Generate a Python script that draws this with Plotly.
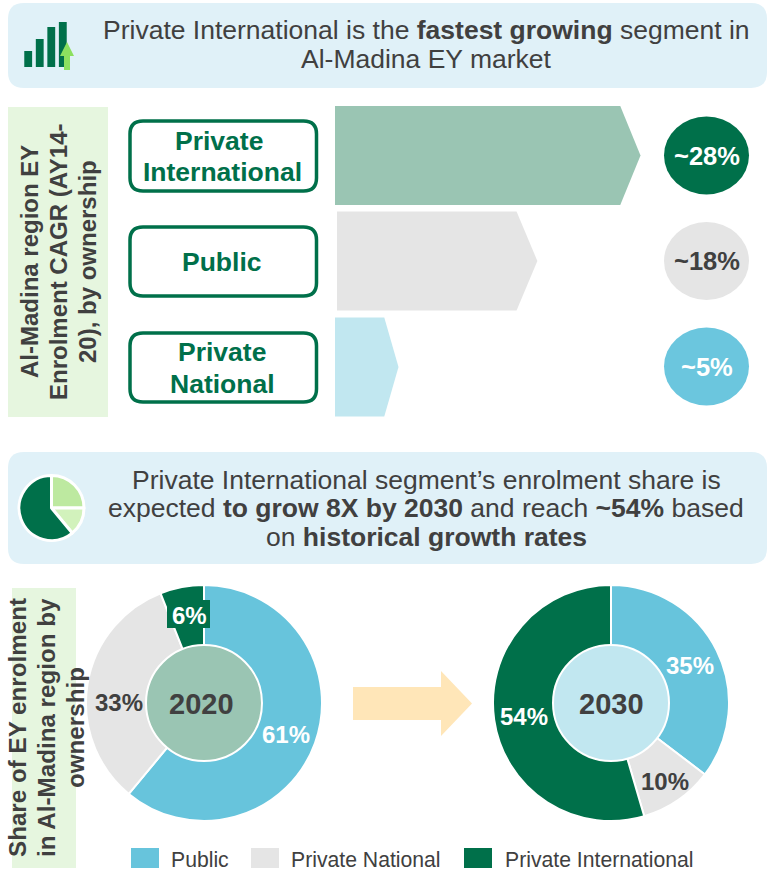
import plotly.graph_objects as go

W, H = 768, 891
FONT = "Liberation Sans"
DARK = "#404040"
GREEN = "#00704A"
BLUE = "#67C4DC"
GREY = "#E5E5E5"

# ---- data ----
segments = ["Private International", "Public", "Private National"]
cagr_labels = ["~28%", "~18%", "~5%"]
arrow_lengths = [27.9, 18.3, 5.8]
arrow_starts = [0.0, 0.18, 0.0]
owners = ["Public", "Private National", "Private International"]
share_2020 = [61, 33, 6]
share_2030 = [35, 10, 54]
icon_pie = [25, 14, 61]
icon_bars = [16, 28, 40, 45]


def px_dom(a, b, size):
    return [a / size, b / size]


def rrect(x0, y0, x1, y1, r):
    return (f"M{x0+r},{y0} L{x1-r},{y0} Q{x1},{y0} {x1},{y0+r} L{x1},{y1-r} Q{x1},{y1} {x1-r},{y1} "
            f"L{x0+r},{y1} Q{x0},{y1} {x0},{y1-r} L{x0},{y0+r} Q{x0},{y0} {x0+r},{y0} Z")


shapes, ann = [], []


def S(**k):
    k.setdefault("xref", "x")
    k.setdefault("yref", "y")
    k.setdefault("layer", "below")
    k.setdefault("line", dict(width=0))
    shapes.append(k)


def T(x, y, text, size, color=DARK, bold=False, angle=0):
    ann.append(dict(x=x, y=y, xref="x", yref="y", text=f"<b>{text}</b>" if bold else text,
                    showarrow=False, textangle=angle, xanchor="center", yanchor="middle",
                    font=dict(family=FONT, size=size, color=color), borderpad=0))


# header panels
S(type="path", path=rrect(8, 3, 767, 88, 16), fillcolor="#E0F1F8")
S(type="path", path=rrect(8, 452, 767, 564, 16), fillcolor="#E0F1F8")
T(426, 30, "Private International is the <b>fastest growing</b> segment in", 26.5)
T(426, 59, "Al-Madina EY market", 26.5)
T(426, 480, "Private International segment\u2019s enrolment share is", 26.5)
T(426, 508, "expected <b>to grow 8X by 2030</b> and reach <b>~54%</b> based", 26.5)
T(426, 537, "on <b>historical growth rates</b>", 26.5)

# light green side labels
S(type="rect", x0=8, y0=107, x1=108, y1=417, fillcolor="#E6F6DF")
S(type="rect", x0=12, y0=588, x1=76, y1=868, fillcolor="#E6F6DF")
T(29, 262, "Al-Madina region EY", 24, bold=True, angle=-90)
T(58, 262, "Enrolment CAGR (AY14-", 24, bold=True, angle=-90)
T(87, 262, "20), by ownership", 24, bold=True, angle=-90)
T(17, 728, "Share of EY enrolment", 24.2, bold=True, angle=-90)
T(46, 728, "in Al-Madina region by", 24.2, bold=True, angle=-90)
T(75, 728, "ownership", 24.2, bold=True, angle=-90)

# segment buttons
for y0, y1 in [(121, 191), (227, 296), (333, 402)]:
    S(type="path", path=rrect(130, y0, 316.5, y1, 13), fillcolor="white", line=dict(color=GREEN, width=3.5))
T(219, 141, "Private", 26.5, GREEN, True)
T(222, 172, "International", 26.5, GREEN, True)
T(222, 262, "Public", 26.5, GREEN, True)
T(222, 352, "Private", 26.5, GREEN, True)
T(222, 384, "National", 26.5, GREEN, True)

# CAGR circles
for yc, col, tc, lab in zip([155.5, 261, 366.5], [GREEN, GREY, "#6BC6DE"], ["white", DARK, "white"], cagr_labels):
    S(type="circle", x0=664, x1=749, y0=yc - 39, y1=yc + 39, fillcolor=col)
    T(707, yc, lab, 25.5, tc, True)

# big arrow
S(type="path", path="M353,687 L441,687 L441,671 L472,703.5 L441,736 L441,720 L353,720 Z", fillcolor="#FFE6B8")

# icons
S(type="path", path="M64,70 L64,56 L60,56 L67,42 L74,56 L70,56 L70,70 Z",
  fillcolor="#8CE05F", layer="above")

# legend
for x0, col, lab, tx in [(131, BLUE, owners[0], 200), (251, GREY, owners[1], 366), (464, GREEN, owners[2], 599)]:
    S(type="rect", x0=x0, x1=x0 + 28, y0=848, y1=868, fillcolor=col)
    T(tx, 859, lab, 21.2)

fig = go.Figure()

# chevron arrows on a value axis
px_per_unit = 10.95
fills = ["#9AC5B3", GREY, "#C1E7F0"]
for name, base, L, yc, f, tipw in zip(segments, arrow_starts, arrow_lengths, [155.5, 261, 367], fills,
                                      [1.85, 1.9, 1.3]):
    ym, yM = yc - 49.5, yc + 49.5
    fig.add_trace(go.Scatter(
        x=[base, base + L - tipw, base + L, base + L - tipw, base, base],
        y=[ym, ym, yc, yM, yM, ym], mode="lines", fill="toself", fillcolor=f,
        line=dict(width=0), name=name, xaxis="x2", yaxis="y", hoverinfo="skip", showlegend=False))

# icon bars
fig.add_trace(go.Bar(x=[0, 1, 2, 3], y=icon_bars, marker=dict(color=GREEN, line=dict(width=0)),
                     width=0.68, xaxis="x3", yaxis="y3", hoverinfo="skip", showlegend=False))


def pie(vals, xd, yd, hole, cols, sort=False, line=2):
    fig.add_trace(go.Pie(values=vals, labels=owners, domain=dict(x=xd, y=yd), hole=hole,
                         direction="clockwise", sort=sort, rotation=0, textinfo="none",
                         marker=dict(colors=cols, line=dict(color="white", width=line)),
                         hoverinfo="skip", showlegend=False))


cols = [BLUE, GREY, GREEN]
pie(share_2020, px_dom(86, 322, W), [1 - 821 / H, 1 - 585 / H], 0.0, cols)
pie(share_2030, px_dom(493, 729, W), [1 - 821 / H, 1 - 585 / H], 0.0, cols)
pie(icon_pie, px_dom(19, 84, W), [1 - 540.5 / H, 1 - 475.5 / H], 0.0, ["#BDE9A0", "#D2F2BC", GREEN], line=3)

# pie centres drawn above pies
S(type="circle", x0=146, x1=262, y0=645, y1=761, fillcolor="#9AC5B3",
  line=dict(color="white", width=2), layer="above")
S(type="circle", x0=553, x1=669, y0=645, y1=761, fillcolor="#C1E7F0",
  line=dict(color="white", width=2), layer="above")
S(type="rect", x0=167, x1=210, y0=600, y1=628, fillcolor=GREEN, layer="above")
T(201, 704, "2020", 29, DARK, True)
T(611, 704, "2030", 29, DARK, True)
T(189, 615, "6%", 24, "white", True)
T(286, 734, "61%", 24, "white", True)
T(119, 702.5, "33%", 24, DARK, True)
T(690, 665, "35%", 24, "white", True)
T(665, 781, "10%", 24, DARK, True)
T(524, 716, "54%", 24, "white", True)

hidden = dict(visible=False, showgrid=False, zeroline=False, fixedrange=True)
fig.update_layout(
    width=W, height=H, autosize=False,
    margin=dict(l=0, r=0, t=0, b=0), paper_bgcolor="white", plot_bgcolor="rgba(0,0,0,0)",
    showlegend=False, shapes=shapes, annotations=ann,
    xaxis=dict(range=[0, W], domain=[0, 1], **hidden),
    yaxis=dict(range=[H, 0], domain=[0, 1], **hidden),
    xaxis2=dict(range=[0, (W - 335) / px_per_unit], domain=[335 / W, 1], anchor="y", **hidden),
    xaxis3=dict(range=[-0.45, 3.45], domain=px_dom(23, 68, W), anchor="y3", **hidden),
    yaxis3=dict(range=[0, 45], domain=[1 - 67 / H, 1 - 22 / H], anchor="x3", **hidden),
)
fig.write_html("out.html", post_script="document.body.style.margin='0';document.body.style.overflow='hidden';",
               config=dict(displayModeBar=False))
